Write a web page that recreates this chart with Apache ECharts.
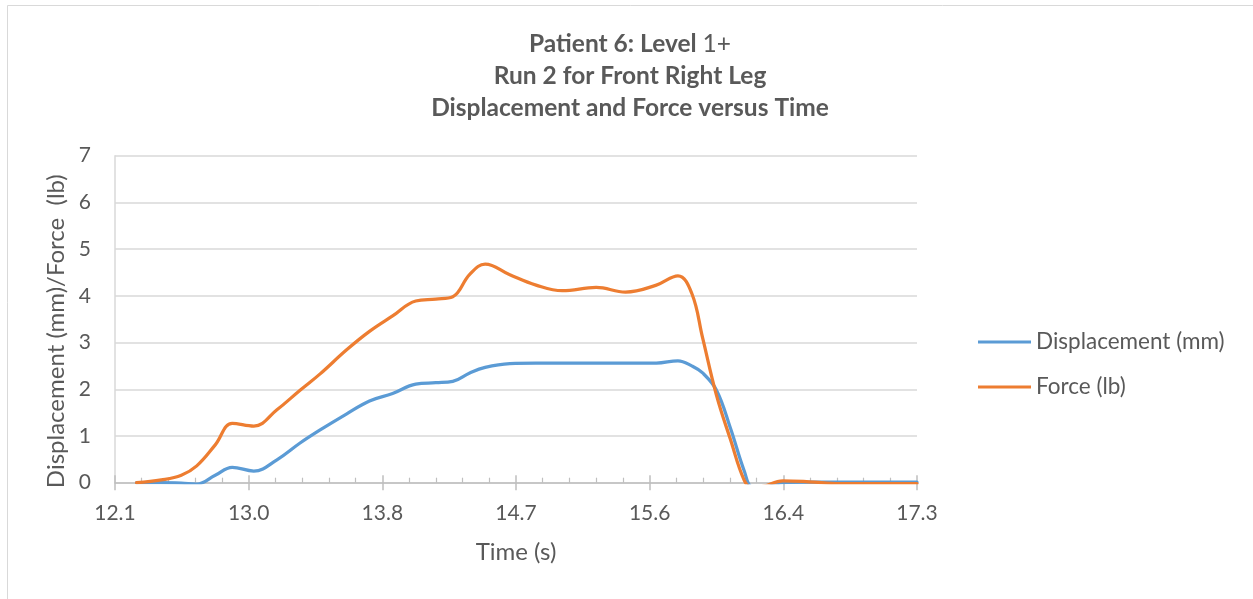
<!DOCTYPE html>
<html>
<head>
<meta charset="utf-8">
<script src="https://cdn.jsdelivr.net/npm/echarts@6/dist/echarts.min.js"></script>
<style>
  html, body { margin: 0; padding: 0; background: #ffffff; }
  #chart { width: 1253px; height: 599px; }
</style>
</head>
<body>
<div id="chart"></div>
<script>
// Run 2, front right leg: sampled time (s), displacement (mm) and force (lb)
const timeS = [12.24, 12.40, 12.53, 12.63, 12.75, 12.86, 13.00, 13.15, 13.30, 13.43,
               13.60, 13.75, 13.90, 14.05, 14.18, 14.29, 14.40, 14.50, 14.66, 14.83,
               15.00, 15.22, 15.41, 15.61, 15.75, 15.84, 15.91, 16.00, 16.09, 16.18,
               16.23, 16.30, 16.43, 16.60, 16.80, 17.00, 17.30];
const displacementMm = [0.00, 0.00, -0.01, -0.03, 0.16, 0.33, 0.25, 0.49, 0.85, 1.13,
                        1.47, 1.75, 1.91, 2.11, 2.14, 2.17, 2.35, 2.47, 2.55, 2.56,
                        2.56, 2.56, 2.56, 2.56, 2.61, 2.50, 2.35, 1.98, 1.17, 0.25,
                        -0.09, -0.10, 0.00, 0.01, 0.01, 0.01, 0.01];
const forceLb = [0.00, 0.06, 0.16, 0.36, 0.81, 1.27, 1.21, 1.56, 1.98, 2.33,
                 2.84, 3.24, 3.57, 3.89, 3.93, 3.98, 4.46, 4.68, 4.45, 4.23,
                 4.11, 4.18, 4.08, 4.23, 4.43, 4.05, 3.10, 1.87, 0.93, 0.05,
                 -0.10, -0.08, 0.04, 0.02, -0.02, -0.02, -0.02];

const seriesNames = ['Displacement (mm)', 'Force (lb)'];
const seriesColors = ['#5B9BD5', '#ED7D31'];

// Time axis: 12.1 to 17.3 split into six major steps, labelled to one decimal
const xTickValues = [12.1, 12.9667, 13.8333, 14.7, 15.5667, 16.4333, 17.3];
const xTickLabels = ['12.1', '13.0', '13.8', '14.7', '15.6', '16.4', '17.3'];
const yTickLabels = ['0', '1', '2', '3', '4', '5', '6', '7'];

const xMinorValues = [];
for (let i = 0; i < xTickValues.length - 1; i++) {
  const step = (xTickValues[i + 1] - xTickValues[i]) / 5;
  for (let k = 1; k < 5; k++) xMinorValues.push(xTickValues[i] + step * k);
}

const FONT = 'Lato';
const TEXT = '#595959';
const GRID_LINE = '#d9d9d9';
const AXIS_LINE = '#bfbfbf';

function nearestLabel(v) {
  let best = 0;
  for (let i = 1; i < xTickValues.length; i++) {
    if (Math.abs(xTickValues[i] - v) < Math.abs(xTickValues[best] - v)) best = i;
  }
  return xTickLabels[best];
}

const baseX = { type: 'value', min: 12.1, max: 17.3, position: 'bottom', splitLine: { show: false } };

const chart = echarts.init(document.getElementById('chart'), null, { renderer: 'canvas' });
chart.setOption({
  backgroundColor: '#ffffff',
  animation: false,
  textStyle: { fontFamily: FONT },
  graphic: [{
    type: 'rect',
    shape: { x: 7.5, y: 5.5, width: 1300, height: 650 },
    style: { fill: 'none', stroke: GRID_LINE, lineWidth: 1 },
    silent: true,
    z: -10
  }],
  title: {
    left: 625,
    top: 23,
    textAlign: 'center',
    text: '{b|Patient 6: Level }{n|1+}\n{b|Run 2 for Front Right Leg}\n{b|Displacement and Force versus Time}',
    textStyle: {
      rich: {
        b: { fontFamily: FONT, fontWeight: 'bold', fontSize: 24.5, color: TEXT, lineHeight: 32 },
        n: { fontFamily: FONT, fontWeight: 'normal', fontSize: 24.5, color: TEXT, lineHeight: 32 }
      }
    }
  },
  legend: {
    orient: 'vertical',
    left: 973,
    top: 324,
    icon: 'rect',
    itemWidth: 53,
    itemHeight: 3,
    itemGap: 19,
    data: seriesNames,
    textStyle: { fontFamily: FONT, fontSize: 22.5, color: TEXT, lineHeight: 26 }
  },
  grid: { left: 115, right: 336, top: 155.7, bottom: 116.3, containLabel: false },
  xAxis: [
    Object.assign({}, baseX, {
      name: 'Time (s)',
      nameLocation: 'middle',
      nameGap: 58,
      nameTextStyle: { fontFamily: FONT, fontSize: 24, color: TEXT },
      axisLine: { show: true, lineStyle: { color: AXIS_LINE, width: 1.5 } },
      axisTick: { show: true, inside: false, length: 7.5, customValues: xTickValues,
                  lineStyle: { color: AXIS_LINE, width: 1.5 } },
      axisLabel: { show: true, margin: 20, customValues: xTickValues, formatter: nearestLabel,
                   fontFamily: FONT, fontSize: 21, color: TEXT }
    }),
    Object.assign({}, baseX, {
      axisLine: { show: false },
      axisTick: { show: true, inside: true, length: 7.5, customValues: xTickValues,
                  lineStyle: { color: AXIS_LINE, width: 1.5 } },
      axisLabel: { show: false }
    }),
    Object.assign({}, baseX, {
      axisLine: { show: false },
      axisTick: { show: true, inside: true, length: 5, customValues: xMinorValues,
                  lineStyle: { color: AXIS_LINE, width: 1.2 } },
      axisLabel: { show: false }
    })
  ],
  yAxis: {
    type: 'value',
    min: 0,
    max: 7,
    interval: 1,
    name: 'Displacement (mm)/Force  (lb)',
    nameLocation: 'middle',
    nameGap: 38,
    nameTextStyle: { fontFamily: FONT, fontSize: 24, color: TEXT, padding: [0, 24, 0, 0] },
    axisLine: { show: true, lineStyle: { color: GRID_LINE, width: 1.5 } },
    axisTick: { show: false },
    axisLabel: { margin: 24, fontFamily: FONT, fontSize: 21, color: TEXT,
                 formatter: (v) => yTickLabels[Math.round(v)] },
    splitLine: { show: true, lineStyle: { color: GRID_LINE, width: 1.5 } }
  },
  series: [
    {
      name: seriesNames[0],
      type: 'line',
      xAxisIndex: 0,
      data: timeS.map((t, i) => [t, displacementMm[i]]),
      smooth: 0.4,
      showSymbol: false,
      clip: true,
      color: seriesColors[0],
      lineStyle: { color: seriesColors[0], width: 3.25, cap: 'round', join: 'round' }
    },
    {
      name: seriesNames[1],
      type: 'line',
      xAxisIndex: 0,
      data: timeS.map((t, i) => [t, forceLb[i]]),
      smooth: 0.4,
      showSymbol: false,
      clip: true,
      color: seriesColors[1],
      lineStyle: { color: seriesColors[1], width: 3.25, cap: 'round', join: 'round' }
    }
  ]
});
</script>
</body>
</html>
